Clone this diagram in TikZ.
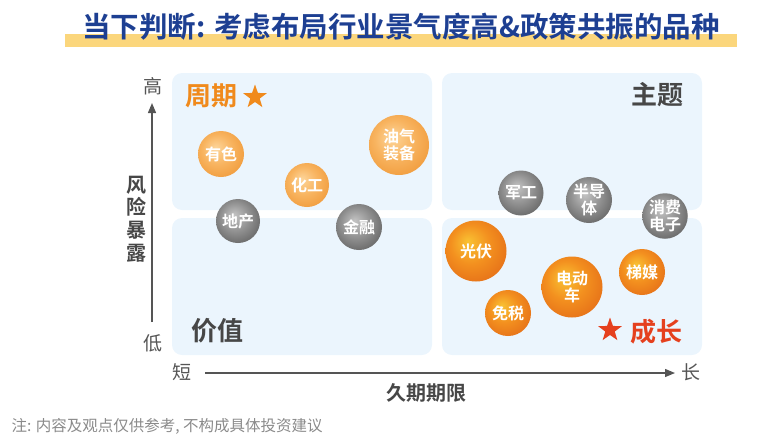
\documentclass[tikz,border=0pt]{standalone}
\usepackage{fontspec}
\setmainfont{Noto Sans CJK SC}[BoldFont={Noto Sans CJK SC Bold}]
\usetikzlibrary{arrows.meta,shapes.geometric}

\definecolor{titleblue}{HTML}{1D3F92}
\definecolor{baryellow}{HTML}{FBD67C}
\definecolor{paneblue}{HTML}{EBF5FD}
\definecolor{inkgray}{HTML}{474747}
\definecolor{axisgray}{HTML}{555555}
\definecolor{notegray}{HTML}{8A8A8A}
\definecolor{cycleorange}{HTML}{F08A1C}
\definecolor{growthred}{HTML}{E5401E}
% bubble colours
\definecolor{liteA}{HTML}{FDD59A}
\definecolor{liteB}{HTML}{F8B460}
\definecolor{liteC}{HTML}{F09A3A}
\definecolor{deepA}{HTML}{F9C233}
\definecolor{deepB}{HTML}{F3901F}
\definecolor{deepC}{HTML}{E56F18}
\definecolor{dimA}{HTML}{C4C4C4}
\definecolor{dimB}{HTML}{929292}
\definecolor{dimC}{HTML}{626262}

\pgfdeclareradialshading{liteorb}{\pgfpoint{-6bp}{7bp}}{color(0bp)=(liteA); color(16bp)=(liteB); color(32bp)=(liteC); color(50bp)=(liteC)}
\pgfdeclareradialshading{deeporb}{\pgfpoint{-7bp}{8bp}}{color(0bp)=(deepA); color(16bp)=(deepB); color(32bp)=(deepC); color(50bp)=(deepC)}
\pgfdeclareradialshading{dimorb}{\pgfpoint{-5bp}{7bp}}{color(0bp)=(dimA); color(16bp)=(dimB); color(32bp)=(dimC); color(50bp)=(dimC)}

\begin{document}
\begin{tikzpicture}[x=1pt, y=-1pt,
    quad/.style={fill=paneblue, rounded corners=10pt},
    orb/.style={circle, minimum size=#1, inner sep=0pt, align=center, text=white,
      font=\bfseries\fontsize{16}{17.5}\selectfont},
    lite/.style={orb=#1, shading=liteorb},
    deep/.style={orb=#1, shading=deeporb},
    dim/.style={orb=#1, shading=dimorb},
    axisline/.style={-{Triangle[length=10pt, width=8pt]}, line width=1.3pt, draw=axisgray},
    tick/.style={text=axisgray, font=\fontsize{19}{20}\selectfont},
    heading/.style={font=\bfseries\fontsize{26}{28}\selectfont},
    starmark/.style={star, star points=5, star point ratio=2.5, minimum size=25pt, inner sep=0pt}
  ]
  \useasboundingbox (0,0) rectangle (772,445);

  % title
  \fill[baryellow] (65,34) rectangle (737,47);
  \node[text=titleblue, font=\bfseries\fontsize{28.5}{30}\selectfont] (title) at (401,27)
    {当下判断: 考虑布局行业景气度高\&政策共振的品种};

  % quadrants
  \fill[quad] (172,73) rectangle (432,210);
  \fill[quad] (442,73) rectangle (702,210);
  \fill[quad] (172,218) rectangle (432,355);
  \fill[quad] (442,218) rectangle (702,355);

  \node[heading, text=cycleorange] (cycle) at (211,96) {周期};
  \node[starmark, fill=cycleorange] (cyclestar) at (255,97) {};
  \node[heading, text=inkgray] (theme) at (657,95) {主题};
  \node[heading, text=inkgray] (value) at (217,331) {价值};
  \node[heading, text=growthred] (growth) at (656,332) {成长};
  \node[starmark, fill=growthred] (growthstar) at (610,330) {};

  % axes
  \coordinate (ybot) at (152,322);
  \coordinate (ytop) at (152,103);
  \coordinate (xleft) at (205,373);
  \coordinate (xright) at (675,373);
  \draw[axisline] (ybot) -- (ytop);
  \draw[axisline] (xleft) -- (xright);
  \node[tick] (high) at (153,86) {高};
  \node[tick] (low) at (153,343) {低};
  \node[tick] (short) at (182,372) {短};
  \node[tick] (long) at (691,372) {长};
  \node[text=inkgray, align=center, font=\bfseries\fontsize{20}{22.7}\selectfont] (risk) at (136,219)
    {风\\险\\暴\\露};
  \node[text=inkgray, font=\bfseries\fontsize{20}{21}\selectfont] (duration) at (426,393) {久期期限};

  % bubbles
  \node[lite=46pt] (nonferrous) at (221,154) {有色};
  \node[lite=44pt] (chemical) at (307,185) {化工};
  \node[lite=60pt] (oilgas) at (399,145) {油气\\装备};
  \node[dim=44pt] (realestate) at (238,221) {地产};
  \node[dim=46pt] (finance) at (359,227) {金融};
  \node[dim=45pt] (military) at (521,193) {军工};
  \node[dim=46pt] (chips) at (589,200) {半导\\体};
  \node[dim=45pt] (gadgets) at (665,216) {消费\\电子};
  \node[deep=61pt] (solar) at (476,251) {光伏};
  \node[deep=46pt] (dutyfree) at (508,313) {免税};
  \node[deep=61pt] (ev) at (572,287) {电动\\车};
  \node[deep=46pt] (elevator) at (642,272) {梯媒};

  % note
  \node[anchor=west, text=notegray, font=\fontsize{15.5}{17}\selectfont] (note) at (8,426)
    {注: 内容及观点仅供参考, 不构成具体投资建议};
\end{tikzpicture}
\end{document}
